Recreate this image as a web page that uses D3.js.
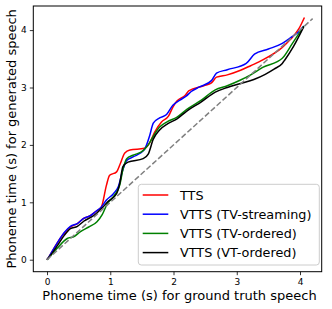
<!DOCTYPE html>
<html>
<head>
<meta charset="utf-8">
<script src="https://cdn.jsdelivr.net/npm/d3@7"></script>
<style>
  body { margin: 0; background: #fff; }
  text { font-family: "DejaVu Sans", sans-serif; }
</style>
</head>
<body>
<svg id="chart" width="332" height="309"></svg>
<script>
// phoneme times: [ground truth (s), generated (s)]
const tts = [[0,0],[0.03,0.05],[0.16,0.29],[0.27,0.46],[0.37,0.57],[0.48,0.63],[0.58,0.72],[0.69,0.77],[0.77,0.84],[0.86,0.92],[0.94,1.30],[0.99,1.47],[1.10,1.53],[1.15,1.65],[1.23,1.86],[1.31,1.91],[1.54,1.94],[1.62,2.03],[1.70,2.22],[1.81,2.40],[1.92,2.50],[1.99,2.66],[2.05,2.76],[2.19,2.87],[2.24,2.94],[2.48,3.03],[2.60,3.08],[2.68,3.18],[2.85,3.22],[3.06,3.30],[3.22,3.38],[3.41,3.48],[3.72,3.70],[3.85,3.84],[3.98,4.02],[4.07,4.22]];
const vttsStreaming = [[0,0],[0.03,0.05],[0.16,0.29],[0.27,0.47],[0.37,0.58],[0.48,0.63],[0.58,0.72],[0.69,0.77],[0.77,0.84],[0.86,0.92],[0.94,1.04],[1.05,1.15],[1.13,1.28],[1.20,1.57],[1.26,1.73],[1.36,1.79],[1.54,1.92],[1.62,2.15],[1.68,2.38],[1.78,2.47],[1.89,2.53],[1.99,2.69],[2.10,2.78],[2.20,2.85],[2.28,2.93],[2.41,3.01],[2.60,3.12],[2.68,3.25],[2.85,3.31],[3.15,3.42],[3.28,3.58],[3.50,3.67],[3.72,3.77],[3.88,3.89],[3.96,3.95],[4.06,4.07]];
const vttsTvOrdered = [[0,0],[0.03,0.04],[0.16,0.20],[0.32,0.37],[0.42,0.40],[0.53,0.49],[0.66,0.57],[0.79,0.66],[0.87,0.78],[0.95,0.97],[1.07,1.13],[1.15,1.30],[1.20,1.57],[1.26,1.76],[1.36,1.82],[1.52,1.90],[1.60,2.00],[1.68,2.15],[1.78,2.31],[1.91,2.41],[2.05,2.48],[2.21,2.62],[2.44,2.78],[2.66,2.96],[2.85,3.03],[3.06,3.13],[3.22,3.22],[3.41,3.35],[3.72,3.51],[3.88,3.77],[4.06,4.07]];
const vttsVtOrdered = [[0,0],[0.03,0.04],[0.16,0.24],[0.27,0.42],[0.37,0.54],[0.48,0.58],[0.58,0.67],[0.74,0.77],[0.87,0.90],[0.96,1.01],[1.10,1.15],[1.15,1.33],[1.20,1.62],[1.28,1.70],[1.52,1.76],[1.60,1.84],[1.68,2.10],[1.78,2.26],[1.91,2.37],[2.05,2.45],[2.21,2.59],[2.44,2.75],[2.66,2.92],[2.85,3.00],[3.06,3.07],[3.27,3.14],[3.45,3.23],[3.59,3.32],[3.72,3.42],[3.76,3.48],[3.90,3.72],[4.06,4.06]];
const diagonal = [[0,0],[4.2,4.2]];

const seriesNames = ["TTS", "VTTS (TV-streaming)", "VTTS (TV-ordered)", "VTTS (VT-ordered)"];
const seriesColors = ["red", "blue", "green", "black"];
const xTicks = [0, 1, 2, 3, 4];
const yTicks = [0, 1, 2, 3, 4];

const series = [tts, vttsStreaming, vttsTvOrdered, vttsVtOrdered];

var svg = d3.select("#chart"),
  plot = {left: 33.3, right: 321.7, top: 6, bottom: 271.7};

var x = d3.scaleLinear().domain([-0.217, 4.343]).range([plot.left, plot.right]);
var y = d3.scaleLinear().domain([-0.209, 4.42]).range([plot.bottom, plot.top]);

var line = d3.line()
  .x(d => x(d[0]))
  .y(d => y(d[1]))
  .curve(d3.curveMonotoneX);

svg.selectAll("path.series").data(series)
  .enter().append("path")
  .attr("class", "series")
  .attr("d", line)
  .attr("fill", "none")
  .attr("stroke", (d, i) => seriesColors[i])
  .attr("stroke-width", 1.5)
  .attr("stroke-linejoin", "round");

svg.append("path")
  .attr("d", d3.line().x(d => x(d[0])).y(d => y(d[1]))(diagonal))
  .attr("fill", "none")
  .attr("stroke", "gray")
  .attr("stroke-width", 1.5)
  .attr("stroke-dasharray", "5.5,2.4");

// axes
var xAxis = svg.append("g")
  .attr("transform", `translate(0,${plot.bottom})`)
  .call(d3.axisBottom(x).tickValues(xTicks).tickFormat(d3.format("d")).tickSize(3.5).tickPadding(3));
var yAxis = svg.append("g")
  .attr("transform", `translate(${plot.left},0)`)
  .call(d3.axisLeft(y).tickValues(yTicks).tickFormat(d3.format("d")).tickSize(3.5).tickPadding(3));

[xAxis, yAxis].forEach(a => {
  a.select(".domain").remove();
  a.selectAll("text").style("font-size", "9px").attr("fill", "#000");
  a.selectAll("line").attr("stroke", "#000").attr("stroke-width", 0.8);
});

svg.append("rect")
  .attr("x", plot.left).attr("y", plot.top)
  .attr("width", plot.right - plot.left).attr("height", plot.bottom - plot.top)
  .attr("fill", "none").attr("stroke", "#000").attr("stroke-width", 1);

svg.append("text")
  .attr("x", (plot.left + plot.right) / 2 + 2)
  .attr("y", 300)
  .attr("text-anchor", "middle")
  .style("font-size", "13px")
  .text("Phoneme time (s) for ground truth speech");

svg.append("text")
  .attr("transform", `translate(16,${(plot.top + plot.bottom) / 2}) rotate(-90)`)
  .attr("text-anchor", "middle")
  .style("font-size", "13px")
  .text("Phoneme time (s) for generated speech");

// legend
var legend = svg.append("g");
legend.append("rect")
  .attr("x", 138.3).attr("y", 184.3)
  .attr("width", 181).attr("height", 80.7)
  .attr("rx", 3)
  .attr("fill", "#fff").attr("fill-opacity", 0.8)
  .attr("stroke", "#ccc").attr("stroke-width", 1);

var rows = legend.selectAll("g.row").data(seriesNames)
  .enter().append("g")
  .attr("class", "row")
  .attr("transform", (d, i) => `translate(0,${195 + i * 19.2})`);

rows.append("line")
  .attr("x1", 142.7).attr("x2", 168.3)
  .attr("stroke", (d, i) => seriesColors[i])
  .attr("stroke-width", 1.5);

rows.append("text")
  .attr("x", 180)
  .attr("dy", "0.36em")
  .style("font-size", "12.8px")
  .text(d => d);
</script>
</body>
</html>
